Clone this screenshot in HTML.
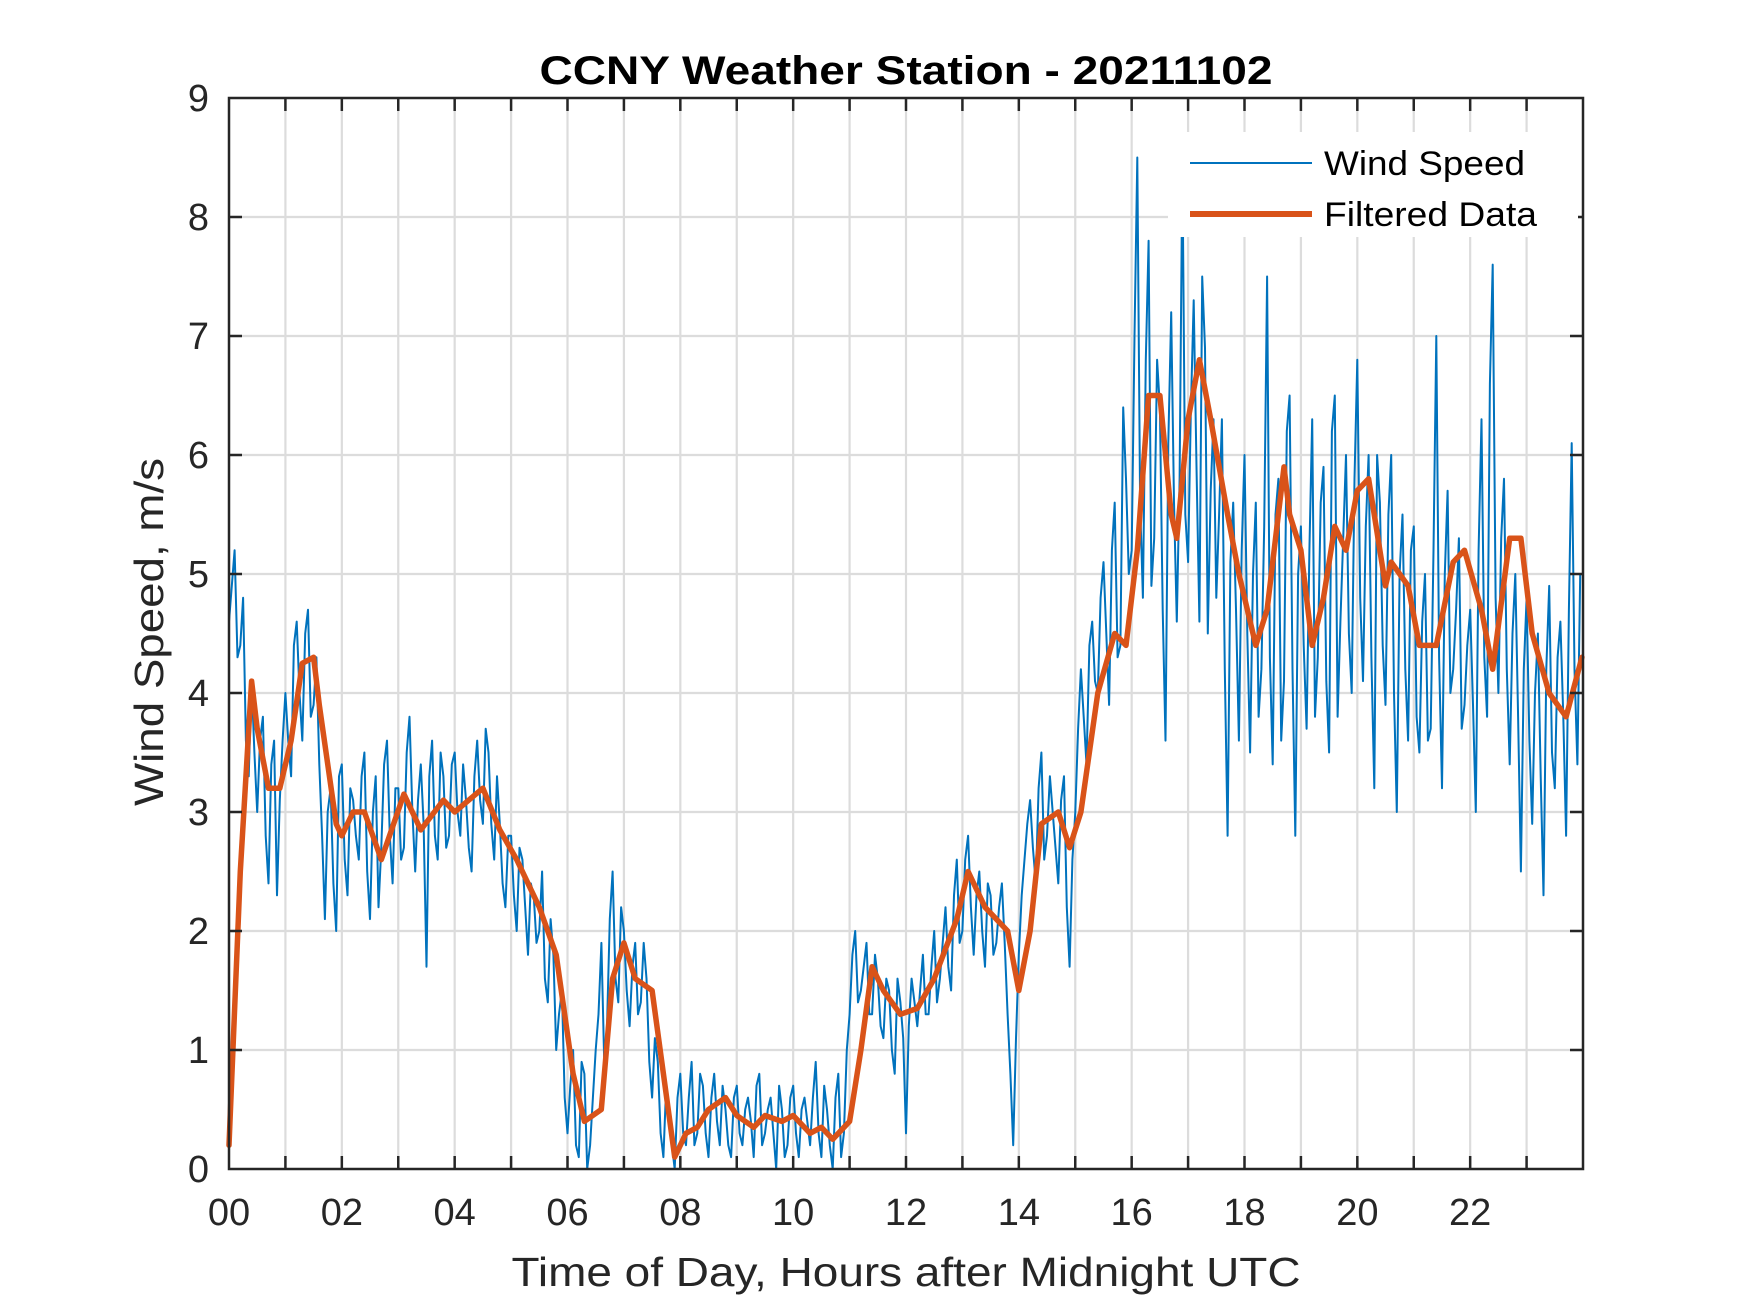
<!DOCTYPE html>
<html><head><meta charset="utf-8"><style>
html,body{margin:0;padding:0;background:#fff;}
svg{display:block;font-family:"Liberation Sans",Arial,sans-serif;}
</style></head><body>
<svg id="chart" width="1750" height="1313" viewBox="0 0 1750 1313" xmlns="http://www.w3.org/2000/svg">
<rect width="1750" height="1313" fill="#fff"/>
<g id="grid"></g>
<g id="series"></g>
<g id="axes"></g>
<text x="906" y="84" text-anchor="middle" font-size="40" font-weight="bold" fill="#000" textLength="733" lengthAdjust="spacingAndGlyphs">CCNY Weather Station - 20211102</text>
<text x="906" y="1286" text-anchor="middle" font-size="41" fill="#262626" textLength="789" lengthAdjust="spacingAndGlyphs">Time of Day, Hours after Midnight UTC</text>
<text transform="translate(163,632) rotate(-90)" text-anchor="middle" font-size="41" fill="#262626" textLength="348" lengthAdjust="spacingAndGlyphs">Wind Speed, m/s</text>
<g>
<rect x="1168" y="132" width="410" height="105" fill="#fff"/>
<line x1="1190" y1="163" x2="1312" y2="163" stroke="#0072BD" stroke-width="2"/>
<text x="1324" y="175" font-size="34" fill="#000" textLength="201" lengthAdjust="spacingAndGlyphs">Wind Speed</text>
<line x1="1190" y1="214" x2="1312" y2="214" stroke="#D95319" stroke-width="6"/>
<text x="1324" y="226" font-size="34" fill="#000" textLength="213" lengthAdjust="spacingAndGlyphs">Filtered Data</text>
</g>
</svg>
<script>
const windSpeed = [
4.6,5.2,4.4,3.6,4.1,3.0,3.8,2.4,3.6,3.1,
4.0,3.3,4.6,3.6,4.7,3.9,3.4,2.1,3.2,2.0,
3.4,2.3,3.1,2.6,3.5,2.1,3.3,2.7,3.6,2.4,
3.2,2.7,3.8,2.5,3.4,1.7,3.6,2.6,3.3,2.8,
3.5,2.8,3.1,2.5,3.6,2.9,3.5,2.6,2.9,2.2,
2.8,2.0,2.6,1.8,2.3,2.0,1.6,2.1,1.0,1.5,
0.3,1.0,0.1,0.8,0.2,1.0,1.9,1.2,2.5,1.4,
2.0,1.2,1.9,1.4,1.6,0.6,0.9,0.1,0.4,0.0,
0.8,0.2,0.9,0.3,0.7,0.1,0.8,0.2,0.5,0.1,
0.7,0.2,0.6,0.1,0.8,0.3,0.6,0.0,0.5,0.2,
0.7,0.1,0.6,0.2,0.9,0.1,0.5,0.0,0.8,0.3,
1.3,2.0,1.5,1.9,1.3,1.6,1.1,1.5,0.8,1.4,
0.3,1.6,1.2,1.8,1.3,2.0,1.6,2.2,1.5,2.6,
2.0,2.8,1.8,2.5,1.7,2.3,1.9,2.4,1.3,0.2,
1.8,2.6,3.1,2.4,3.5,2.8,3.0,2.4,3.3,1.7,
3.0,4.2,3.4,4.6,4.0,5.1,3.9,5.6,4.4,5.8,
5.2,8.5,4.8,7.8,5.3,6.4,3.6,7.2,4.6,8.5,
5.1,7.3,4.6,6.9,5.7,4.8,6.3,2.8,5.6,3.6,
6.0,3.5,5.6,4.2,7.5,3.4,5.8,4.1,6.5,2.8,
5.4,3.7,6.3,4.3,5.9,3.5,6.5,4.6,6.0,4.0,
6.8,4.1,6.0,3.2,5.6,3.9,6.0,3.0,5.5,3.6,
5.4,3.5,5.0,3.7,7.0,3.2,5.7,4.2,5.3,3.9,
4.7,3.0,6.3,3.8,7.6,4.0,5.8,3.4,5.0,2.5,
4.8,2.9,4.5,2.3,4.9,3.2,4.6,2.8,6.1,3.4];
const windSpeedMid = [
4.9,4.3,4.8,3.3,3.5,3.6,2.8,3.4,2.3,3.6,
3.6,4.4,4.0,4.5,3.8,4.3,2.8,3.0,2.4,3.3,
2.6,3.2,2.8,3.3,2.5,3.0,2.2,3.4,2.8,3.2,
2.6,3.5,3.0,3.1,2.9,3.3,2.8,3.5,2.7,3.4,
3.0,3.4,2.7,3.3,3.1,3.7,2.9,3.3,2.4,2.8,
2.3,2.7,2.2,2.4,1.9,2.5,1.4,1.8,1.3,0.6,
0.7,0.2,0.9,0.0,0.6,1.3,0.9,2.1,1.6,2.2,
1.5,1.7,1.3,1.9,0.9,1.1,0.3,0.7,0.2,0.6,
0.3,0.6,0.2,0.8,0.3,0.6,0.4,0.7,0.2,0.6,
0.3,0.5,0.4,0.7,0.2,0.5,0.3,0.7,0.1,0.6,
0.3,0.5,0.4,0.6,0.3,0.7,0.2,0.6,0.1,1.0,
1.8,1.4,1.7,1.3,1.8,1.2,1.6,1.0,1.6,1.1,
1.2,1.4,1.5,1.3,1.7,1.4,1.9,1.7,2.3,1.9,
2.6,2.2,2.3,2.0,2.4,1.8,2.2,1.9,0.8,1.1,
2.3,2.9,2.7,3.2,2.6,3.3,2.7,3.1,2.2,2.6,
3.7,3.8,4.4,4.1,4.8,4.5,5.2,4.3,6.4,5.0,
7.0,5.6,6.8,4.9,6.8,4.7,6.1,5.6,5.8,5.5,
6.4,5.9,7.5,4.5,6.3,5.5,4.2,5.1,4.7,5.2,
4.5,5.0,3.8,5.4,4.3,5.5,3.6,6.2,4.2,5.0,
4.4,5.2,3.8,5.6,4.1,6.2,3.8,5.3,4.5,5.8,
4.8,5.4,4.3,6.0,4.4,5.5,4.0,5.0,4.2,5.2,
3.8,4.6,3.6,5.2,4.3,5.0,4.0,4.7,3.7,4.4,
3.9,5.2,4.3,6.6,4.8,5.3,4.2,4.5,3.8,4.2,
3.6,4.0,3.3,4.2,3.5,4.3,3.8,4.7,4.2,5.0];
const windStep = 0.1;
const filtHours = [0,0.2,0.4,0.5,0.7,0.9,1.1,1.3,1.5,1.6,1.9,2.0,2.2,2.4,2.7,3.1,3.4,3.8,4.0,4.5,4.8,5.1,5.5,5.8,6.1,6.3,6.6,6.8,7.0,7.2,7.5,7.7,7.9,8.1,8.3,8.5,8.8,9.0,9.3,9.5,9.8,10.0,10.3,10.5,10.7,11.0,11.2,11.4,11.6,11.9,12.2,12.5,12.9,13.1,13.4,13.8,14.0,14.2,14.4,14.7,14.9,15.1,15.4,15.7,15.9,16.1,16.3,16.5,16.7,16.8,17.0,17.2,17.4,17.7,17.9,18.2,18.4,18.7,18.8,19.0,19.2,19.4,19.6,19.8,20.0,20.2,20.5,20.6,20.9,21.1,21.4,21.7,21.9,22.2,22.4,22.7,22.9,23.1,23.4,23.7,23.98];
const filtValues = [0.2,2.5,4.1,3.7,3.2,3.2,3.6,4.25,4.3,3.9,2.9,2.8,3.0,3.0,2.6,3.15,2.85,3.1,3.0,3.2,2.85,2.6,2.2,1.8,0.8,0.4,0.5,1.6,1.9,1.6,1.5,0.8,0.1,0.3,0.35,0.5,0.6,0.45,0.35,0.45,0.4,0.45,0.3,0.35,0.25,0.4,1.0,1.7,1.5,1.3,1.35,1.6,2.1,2.5,2.2,2.0,1.5,2.0,2.9,3.0,2.7,3.0,4.0,4.5,4.4,5.2,6.5,6.5,5.5,5.3,6.3,6.8,6.3,5.5,5.0,4.4,4.7,5.9,5.5,5.2,4.4,4.8,5.4,5.2,5.7,5.8,4.9,5.1,4.9,4.4,4.4,5.1,5.2,4.7,4.2,5.3,5.3,4.5,4.0,3.8,4.3];
const xTickLabels = ["00","02","04","06","08","10","12","14","16","18","20","22"];
const yTickLabels = ["0","1","2","3","4","5","6","7","8","9"];

const L=229,R=1583,T=98,B=1169, XMAX=24, YMAX=9;
const NS="http://www.w3.org/2000/svg";
function sx(h){return L+(R-L)*h/XMAX;}
function sy(v){return B-(B-T)*Math.max(0,Math.min(YMAX,v))/YMAX;}
function mk(tag,attrs,parent){const e=document.createElementNS(NS,tag);for(const k in attrs)e.setAttribute(k,attrs[k]);parent.appendChild(e);return e;}
const grid=document.getElementById('grid'),axes=document.getElementById('axes'),series=document.getElementById('series');
for(let h=1;h<XMAX;h++){
  const g=mk('line',{x1:sx(h),x2:sx(h),y1:T,y2:B,stroke:'#dcdcdc','stroke-width':2.2},grid);
  
  
  for(const [y1,y2] of [[B,B-13],[T,T+13]]){
    const t=mk('line',{x1:sx(h),x2:sx(h),y1:y1,y2:y2,stroke:'#262626','stroke-width':2.5},axes);
    
    
  }
}
for(let v=1;v<YMAX;v++){
  const g=mk('line',{x1:L,x2:R,y1:sy(v),y2:sy(v),stroke:'#dcdcdc','stroke-width':2.2},grid);
  
  
  for(const [x1,x2] of [[L,L+13],[R,R-13]]){
    const t=mk('line',{x1:x1,x2:x2,y1:sy(v),y2:sy(v),stroke:'#262626','stroke-width':2.5},axes);
    
    
  }
}
xTickLabels.forEach((s,i)=>{
  const t=mk('text',{x:sx(i*2),y:1225,'text-anchor':'middle','font-size':38,fill:'#262626'},axes);
  t.textContent=s;
  
  
});
yTickLabels.forEach((s,i)=>{
  const t=mk('text',{x:209,y:sy(i)+13,'text-anchor':'end','font-size':38,fill:'#262626'},axes);
  t.textContent=s;
  
  
});
const box=mk('rect',{x:L,y:T,width:R-L,height:B-T,fill:'none',stroke:'#262626','stroke-width':2.5},axes);



let d='';
windSpeed.forEach((v,i)=>{
  const h0=Math.min(i*windStep,23.98), h1=Math.min(i*windStep+windStep/2,23.98);
  d+=(i?'L':'M')+sx(h0).toFixed(1)+','+sy(v).toFixed(1);
  d+='L'+sx(h1).toFixed(1)+','+sy(windSpeedMid[i]).toFixed(1);
});
const wl=mk('path',{d:d,fill:'none',stroke:'#0072BD','stroke-width':2,'stroke-linejoin':'round'},series);


let d2='';
filtHours.forEach((h,i)=>{d2+=(i?'L':'M')+sx(h).toFixed(1)+','+sy(filtValues[i]).toFixed(1);});
const fl=mk('path',{d:d2,fill:'none',stroke:'#D95319','stroke-width':5.5,'stroke-linejoin':'round','stroke-linecap':'round'},series);


</script>
</body></html>
